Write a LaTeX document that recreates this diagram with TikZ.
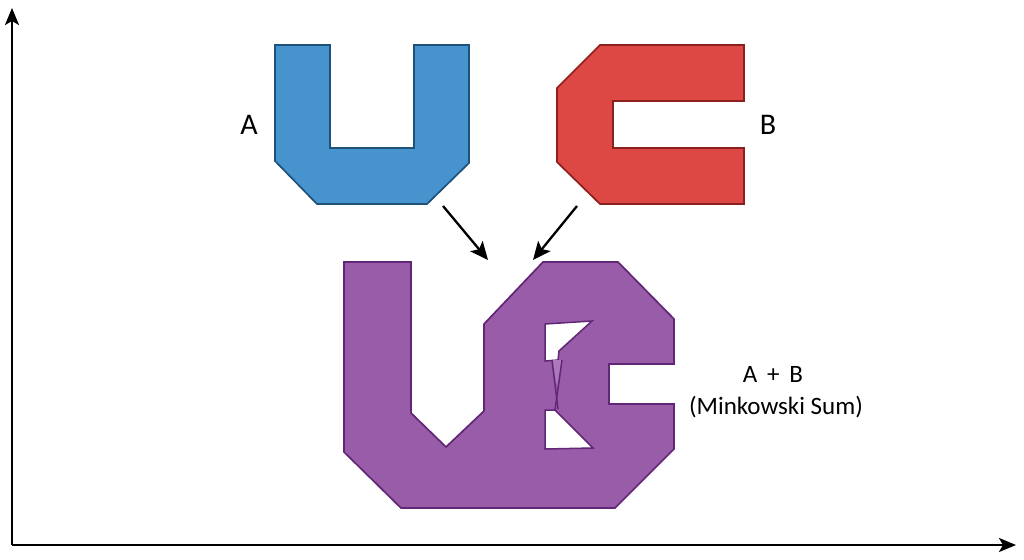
\documentclass[tikz,border=0pt]{standalone}
\usepackage{fontspec}
\setmainfont{Carlito}
\usetikzlibrary{arrows.meta}
\definecolor{ufill}{RGB}{70,147,205}
\definecolor{uline}{RGB}{30,82,122}
\definecolor{cfill}{RGB}{222,72,68}
\definecolor{cline}{RGB}{140,32,30}
\definecolor{pfill}{RGB}{153,92,168}
\definecolor{pline}{RGB}{98,38,118}
\definecolor{plight}{RGB}{172,122,186}
\tikzset{
  axis/.style={line width=2.3pt,-{Stealth[length=17pt,width=14pt,inset=4pt]}},
  flow/.style={line width=2.3pt,-{Stealth[length=18pt,width=16pt,inset=4pt]}},
  ushape/.style={fill=ufill,draw=uline,line width=1.7pt,line join=miter},
  cshape/.style={fill=cfill,draw=cline,line width=1.7pt,line join=miter},
  pshape/.style={fill=pfill,draw=pline,line width=1.7pt,line join=miter},
  hole/.style={fill=white,draw=pline,line width=1.5pt},
  lbl/.style={font=\fontsize{30}{33}\selectfont,text=black,inner sep=0pt},
  sublbl/.style={font=\fontsize{25}{28}\selectfont,text=black,inner sep=0pt}
}
\begin{document}
\begin{tikzpicture}[x=1pt,y=-1pt]
\useasboundingbox (0,0) rectangle (1024,559);
% axes
\coordinate (o) at (12,545);
\coordinate (ytip) at (12,8);
\coordinate (xtip) at (1016,545);
\draw[axis] (o) -- (ytip);
\draw[axis] (o) -- (xtip);
% shape A
\draw[ushape] (275,45) -- (330,45) -- (330,148) -- (414,148) -- (414,45) -- (469,45)
  -- (469,163) -- (427,204) -- (317,204) -- (275,161) -- cycle;
% shape B
\draw[cshape] (600,45) -- (744,45) -- (744,101) -- (613,101) -- (613,148) -- (744,148)
  -- (744,204) -- (600,204) -- (557,162) -- (557,88) -- cycle;
% Minkowski sum
\draw[pshape] (344,262) -- (411,262) -- (411,413) -- (446,447) -- (484,411) -- (484,324)
  -- (543,262) -- (618,262) -- (674,319) -- (674,364) -- (609,364) -- (609,404)
  -- (674,404) -- (674,449) -- (615,508) -- (401,508) -- (344,452) -- cycle;
\draw[hole] (545,324) -- (592,321) -- (559,351) -- (558,360) -- (545,361) -- cycle;
\draw[hole] (545,410) -- (555,410) -- (558,413) -- (593,448) -- (545,449) -- cycle;
\fill[plight] (552,360) -- (562,360) -- (557,386) -- cycle;
\draw[pline,line width=1.5pt] (552,360) -- (558,409);
\draw[pline,line width=1.5pt] (562,360) -- (555,410);
% arrows
\coordinate (a1s) at (443,206);
\coordinate (a1e) at (488,260);
\coordinate (a2s) at (577,206);
\coordinate (a2e) at (533,260);
\draw[flow] (a1s) -- (a1e);
\draw[flow] (a2s) -- (a2e);
% labels
\node[lbl] (la) at (249,125) {A};
\node[lbl] (lb) at (768,125) {B};
\node[lbl,font=\fontsize{25}{28}\selectfont] (lab) at (773,374) {A\, + \,B};
\node[sublbl] (lms) at (776,407) {(Minkowski Sum)};
\end{tikzpicture}
\end{document}
